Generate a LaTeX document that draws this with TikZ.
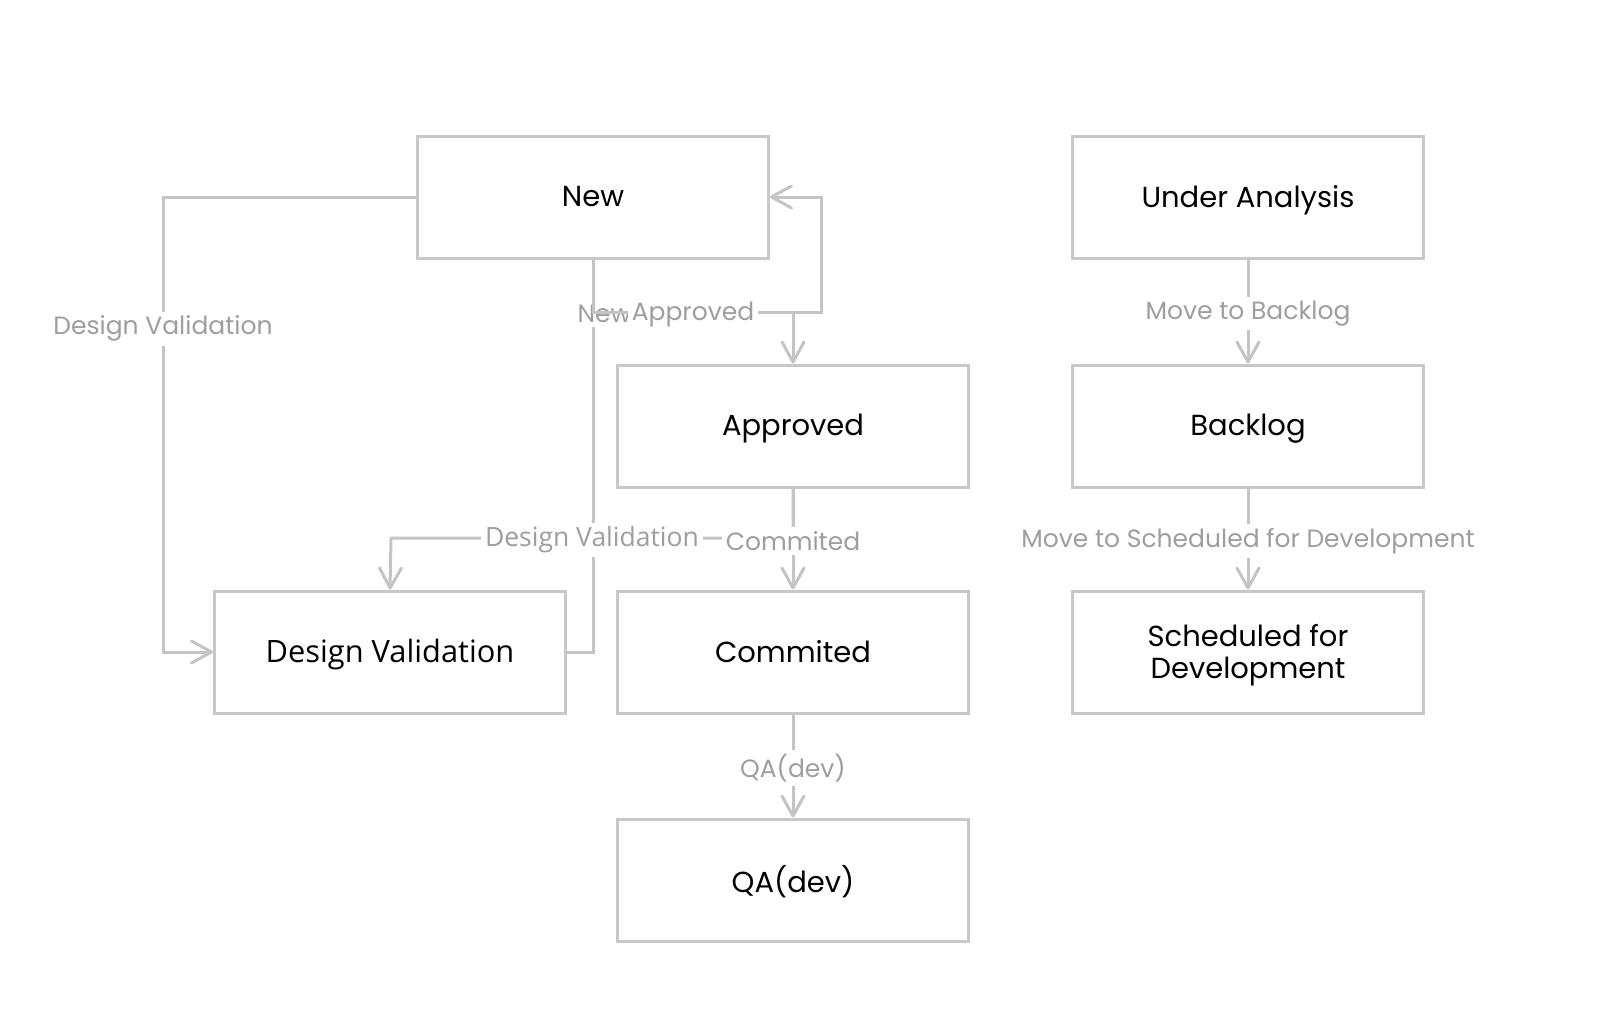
\documentclass[tikz,border=0pt]{standalone}
\usepackage{fontspec}
\setmainfont{Poppins}
\newfontfamily\osfont{Open Sans}
\usetikzlibrary{arrows.meta}
\definecolor{linec}{HTML}{C4C4C4}
\definecolor{boxc}{HTML}{C8C8C8}
\definecolor{lblc}{HTML}{9E9E9E}
\tikzset{
  statebox/.style={draw=boxc, line width=3pt, minimum width=351pt, minimum height=122pt,
    inner sep=0pt, align=center, font=\fontsize{29}{32}\selectfont, text=black,
    text depth=2pt},
  edge/.style={draw=linec, line width=3pt,
    -{Straight Barb[length=20pt,width=22pt,round]}},
  lbl/.style={fill=white, text=lblc, inner sep=4pt, yshift=-2pt, font=\fontsize{25}{29}\selectfont},
}
\begin{document}
\begin{tikzpicture}[x=1pt,y=-1pt]
\useasboundingbox (0,0) rectangle (1600,1020);
% nodes
\node[statebox] (new) at (593,197) {New};
\node[statebox] (ua) at (1248,197) {Under Analysis};
\node[statebox] (appr) at (793,426) {Approved};
\node[statebox] (back) at (1248,426) {Backlog};
\node[statebox, font=\osfont\fontsize{30.8}{35}\selectfont] (dv) at (390,652) {Design Validation};
\node[statebox] (comm) at (793,652) {Commited};
\node[statebox] (sched) at (1248,652) {Scheduled for\\Development};
\node[statebox] (qa) at (793,880) {QA(dev)};
% bend coordinates
\coordinate (b1) at (163,197);
\coordinate (b2) at (163,652);
\coordinate (c1) at (593,652);
\coordinate (c2) at (593,312);
\coordinate (c3) at (821,312);
\coordinate (c4) at (821,197);
\coordinate (d2) at (793,312);
\coordinate (e1) at (793,538);
\coordinate (e2) at (391,538);
% New -> Design Validation
\draw[edge] (new.west) -- (b1) -- node[lbl, pos=0.285]{Design Validation} (b2) -- (dv.west);
% Design Validation -> New
\draw[edge] (dv.east) -- (c1) -- (c2) -- node[lbl, pos=0.05]{New} (c3) -- (c4) -- (new.east);
% New -> Approved
\draw[edge] (new.south) -- (c2) -- node[lbl]{Approved} (d2) -- (appr.north);
% Approved -> Design Validation
\draw[edge] (appr.south) -- (e1) -- node[lbl, font=\osfont\fontsize{26.5}{30}\selectfont]{Design Validation} (e2) -- (dv.north);
% Approved -> Commited
\draw[edge] (appr.south) -- node[lbl]{Commited} (comm.north);
% Commited -> QA(dev)
\draw[edge] (comm.south) -- node[lbl]{QA(dev)} (qa.north);
% Under Analysis -> Backlog
\draw[edge] (ua.south) -- node[lbl]{Move to Backlog} (back.north);
% Backlog -> Scheduled
\draw[edge] (back.south) -- node[lbl]{Move to Scheduled for Development} (sched.north);
\end{tikzpicture}
\end{document}
